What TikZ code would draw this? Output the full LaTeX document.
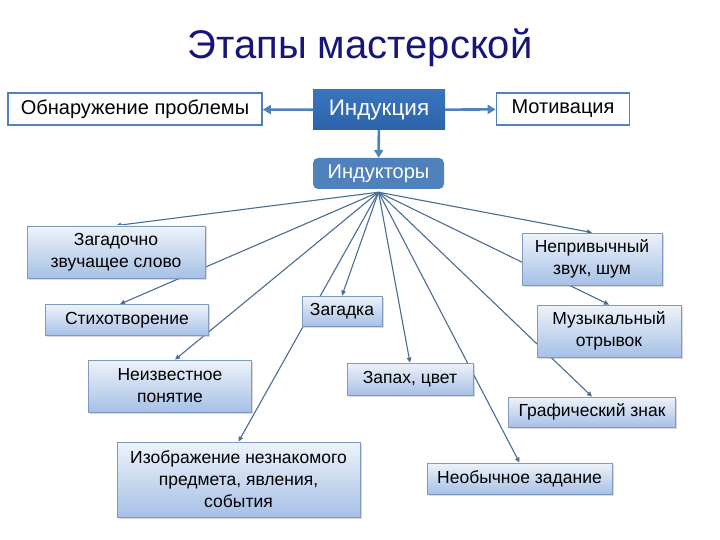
\documentclass[tikz,border=0pt]{standalone}
\usepackage{fontspec}
\setmainfont{Liberation Sans}
\usetikzlibrary{arrows.meta, calc, shadows, backgrounds}
\definecolor{titleblue}{HTML}{16167A}
\definecolor{boxtop}{HTML}{EEF3FA}
\definecolor{boxbot}{HTML}{A6C0E6}
\definecolor{boxedge}{HTML}{7E9AC0}
\definecolor{indblue}{HTML}{2C64AC}
\definecolor{indtop}{HTML}{3A74BC}
\definecolor{kblue}{HTML}{4F81BD}
\definecolor{fanline}{HTML}{4C6B92}

\begin{document}
\begin{tikzpicture}[x=1pt, y=-1pt,
  >={Triangle[length=5pt, width=4.5pt]},
  leaf/.style={draw=boxedge, line width=0.8pt, top color=boxtop, bottom color=boxbot,
    drop shadow={shadow xshift=1.5pt, shadow yshift=-1.5pt, opacity=0.3},
    font=\fontsize{17.5}{22}\selectfont, align=center, inner sep=0pt},
  plain/.style={draw=kblue, line width=1.6pt, fill=white, inner sep=0pt,
    font=\fontsize{20}{24}\selectfont},
  fan/.style={->, draw=fanline, line width=1.1pt},
  bold/.style={-{Triangle[length=8pt, width=9pt]}, draw=kblue, line width=2.6pt}]
  \useasboundingbox (0,0) rectangle (720,540);
  % --- titulo ---
  \node[text=titleblue, font=\fontsize{40}{44}\selectfont] (title) at (360,48) {Этапы мастерской};
  % --- fila superior ---
  \node[plain, minimum width=254pt, minimum height=32pt] (obn) at (135,109) {Обнаружение проблемы};
  \node[fill=indblue, top color=indtop, bottom color=indblue, text=white, inner sep=0pt,
    minimum width=132pt, minimum height=40pt, font=\fontsize{22.5}{26}\selectfont] (ind) at (379,110) {Индукция};
  \node[plain, minimum width=133pt, minimum height=32pt] (mot) at (563,109) {Мотивация};
  \node[fill=kblue, rounded corners=5pt, text=white, inner sep=0pt,
    minimum width=131pt, minimum height=31pt, font=\fontsize{20}{24}\selectfont] (indk) at (378.5,173.5) {Индукторы};
  \coordinate (hub) at ([yshift=-3pt]indk.south);
  % --- inductores ---
  \node[leaf, minimum width=178pt, minimum height=52pt] (zag) at (116,252) {Загадочно\\звучащее слово};
  \node[leaf, minimum width=140pt, minimum height=52pt] (nepr) at (592,259) {Непривычный\\звук, шум};
  \node[leaf, minimum width=163pt, minimum height=31pt] (stih) at (127,320) {Стихотворение};
  \node[leaf, minimum width=80pt, minimum height=30pt] (zagadka) at (342,311) {Загадка};
  \node[leaf, minimum width=144pt, minimum height=52pt] (muz) at (609,331) {Музыкальный\\отрывок};
  \node[leaf, minimum width=163pt, minimum height=52pt] (neizv) at (170,386) {Неизвестное\\понятие};
  \node[leaf, minimum width=126pt, minimum height=32pt] (zapah) at (410,379) {Запах, цвет};
  \node[leaf, minimum width=167pt, minimum height=30pt] (graf) at (592,412) {Графический знак};
  \node[leaf, minimum width=243pt, minimum height=75pt] (izobr) at (238.5,479.5) {Изображение незнакомого\\предмета, явления,\\события};
  \node[leaf, minimum width=185pt, minimum height=31pt] (neob) at (519.5,478.5) {Необычное задание};
  % --- flechas ---
  \draw[bold] (ind) -- (obn);
  \draw[bold] (ind) -- (mot);
  \draw[bold] (ind) -- (indk);
  \begin{pgfonlayer}{background}
    \draw[fan] (hub) -- (zag.north);
    \draw[fan] (hub) -- ([xshift=-7pt]stih.north);
    \draw[fan] (hub) -- ([xshift=5pt]neizv.north);
    \draw[fan] (hub) -- (izobr.north);
    \draw[fan] (hub) -- (zagadka.north);
    \draw[fan] (hub) -- (zapah.north);
    \draw[fan] (hub) -- (neob.north);
    \draw[fan] (hub) -- (graf.north);
    \draw[fan] (hub) -- (muz.north);
    \draw[fan] (hub) -- (nepr.north);
  \end{pgfonlayer}
\end{tikzpicture}
\end{document}
